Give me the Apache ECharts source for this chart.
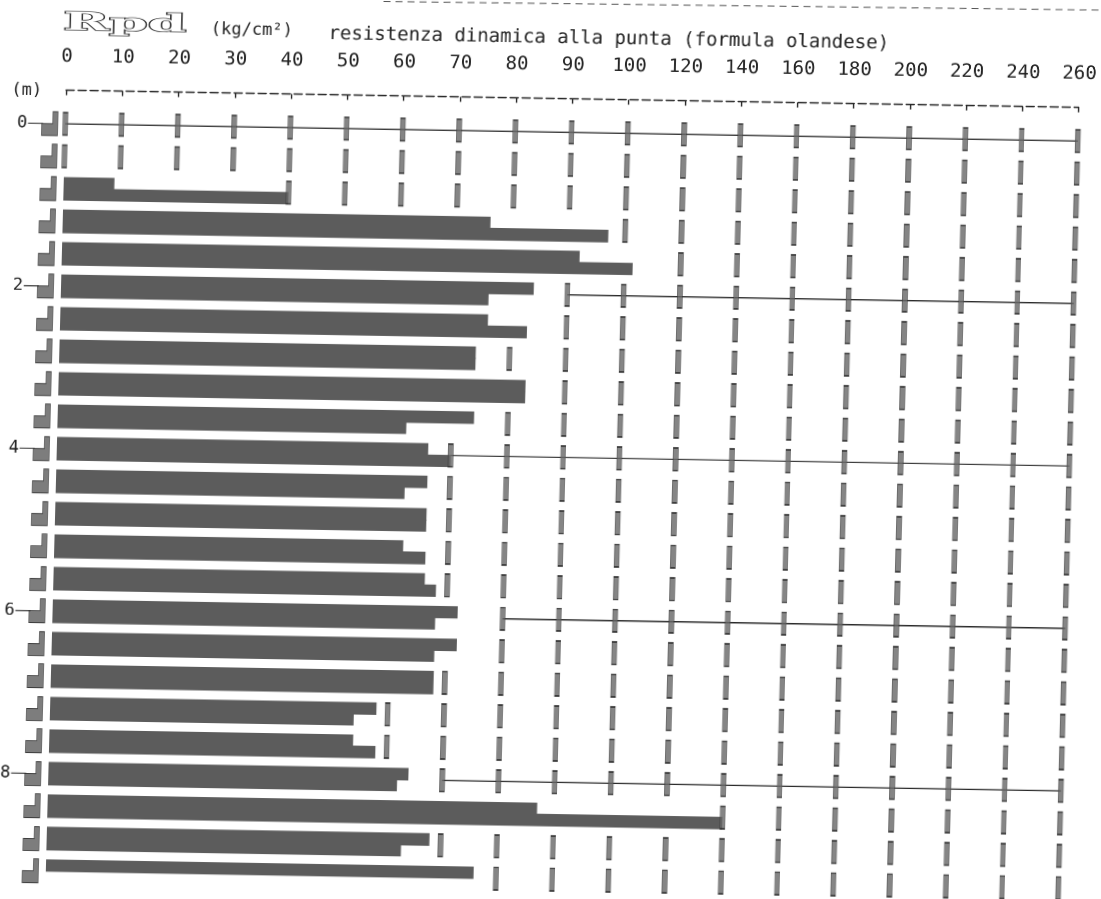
<!DOCTYPE html>
<html>
<head>
<meta charset="utf-8">
<script src="https://cdn.jsdelivr.net/npm/echarts@6/dist/echarts.min.js"></script>
<style>
  html, body { margin: 0; padding: 0; background: #ffffff; overflow: hidden; }
  #chart {
    width: 1101px; height: 899px;
    transform-origin: 550px 450px;
    transform: matrix(1, 0.017, -0.026, 1, 0, 0);
  }
</style>
</head>
<body>
<div id="chart"></div>
<script>
// ---- data (kg/cm², one row every 0.4 m) ----
const ROW_DEPTHS = ['0.0','0.4','0.8','1.2','1.6','2.0','2.4','2.8','3.2','3.6','4.0','4.4',
                    '4.8','5.2','5.6','6.0','6.4','6.8','7.2','7.6','8.0','8.4','8.8','9.2'];
const RPD_UPPER = [null, null, 9, 76, 92, 84, 76, 74, 83, 74, 66, 66, 66, 62, 66, 72, 72, 68, 58, 54, 64, 87, 68, 76];
const RPD_LOWER = [null, null, 40, 97, 103, 76, 83, 74, 83, 62, 70, 62, 66, 66, 68, 68, 68, 68, 54, 58, 62, 140, 63, null];
const TICK_VALUES = [0, 10, 20, 30, 40, 50, 60, 70, 80, 90, 100, 120, 140, 160, 180, 200, 220, 240, 260];
const DEPTH_LABEL_ROWS = [0, 5, 10, 15, 20];
const DEPTH_LABELS = ['0', '2', '4', '6', '8'];

// axis scale: 10 per division up to 100, 20 per division above
function tx(v) { return v <= 100 ? v : 100 + (v - 100) / 2; }
function itx(t) { return t <= 100 ? t : 100 + (t - 100) * 2; }

const chart = echarts.init(document.getElementById('chart'), null, { renderer: 'canvas', devicePixelRatio: 2 });

const BAR = '#5c5c5c';
const INK = '#2a2a2a';
const MONO = '"DejaVu Sans Mono", monospace';

const upperData = RPD_UPPER.map(v => v == null ? '-' : tx(v));
const lowerData = RPD_LOWER.map(v => v == null ? '-' : tx(v));

const tickData = [];
const rowMax = ROW_DEPTHS.map((d, r) => Math.max(RPD_UPPER[r] || 0, RPD_LOWER[r] || 0));
ROW_DEPTHS.forEach((d, r) => {
  TICK_VALUES.forEach(v => { if (v >= rowMax[r]) tickData.push([tx(v), r]); });
});

const lineSeries = DEPTH_LABEL_ROWS.map(r => ({
  type: 'line', silent: true, symbol: 'none', z: 1,
  lineStyle: { color: INK, width: 1.3 },
  data: TICK_VALUES.filter(v => v >= rowMax[r]).map(v => [tx(v), r])
}));

const markerData = ROW_DEPTHS.map((d, r) => [-2.76, r]);
const connectorData = DEPTH_LABEL_ROWS.map(r => [-5.3, r]);

chart.setOption({
  backgroundColor: '#ffffff',
  animation: false,
  grid: { left: 57, right: 31.5, top: 115.95, bottom: 3.3, containLabel: false },
  xAxis: {
    type: 'value', position: 'top', min: 0, max: 180, interval: 10, offset: 17.5,
    axisLine: { show: true, lineStyle: { color: INK, width: 1.4, type: [8, 4] } },
    axisTick: { show: true, inside: true, length: 5, lineStyle: { color: INK, width: 1.4 } },
    splitLine: { show: false },
    axisLabel: {
      margin: 33.5, verticalAlign: 'middle', fontFamily: MONO, fontSize: 19, color: '#222',
      formatter: t => String(itx(t))
    }
  },
  yAxis: {
    type: 'category', data: ROW_DEPTHS, inverse: true,
    axisLine: { show: false }, axisTick: { show: false }, splitLine: { show: false },
    axisLabel: {
      interval: 0, margin: 38, fontFamily: MONO, fontSize: 17, color: '#222',
      formatter: (v, i) => { const k = DEPTH_LABEL_ROWS.indexOf(i); return k >= 0 ? DEPTH_LABELS[k] : ''; }
    }
  },
  series: [
    { type: 'bar', name: 'upper', data: upperData, barWidth: 12.4, barGap: '-10%', z: 2,
      itemStyle: { color: BAR } },
    { type: 'bar', name: 'lower', data: lowerData, barWidth: 12.4, barGap: '-10%', z: 2,
      itemStyle: { color: BAR } },
    ...lineSeries,
    { type: 'scatter', name: 'ticks', data: tickData, symbol: 'rect', symbolSize: [5, 22.5], z: 3,
      silent: true, itemStyle: { color: '#666666', borderColor: INK, borderWidth: 0.8 } },
    { type: 'scatter', name: 'rows', data: markerData, clip: false, silent: true, z: 3,
      symbol: 'path://M11,0 L16,0 L16,24 L0,24 L0,12 L11,12 Z', symbolSize: [16, 24],
      itemStyle: { color: BAR, borderColor: INK, borderWidth: 0.8 } },
    { type: 'scatter', name: 'conn', data: connectorData, clip: false, silent: true, z: 3,
      symbol: 'rect', symbolSize: [15, 1.3], itemStyle: { color: INK } }
  ],
  graphic: [
    { type: 'text', x: 113.9, y: 31.5, scaleX: 2.4, scaleY: 1.05,
      style: { text: 'Rpd', font: 'bold 23px "DejaVu Serif", serif', fill: '#ffffff',
               stroke: '#333', lineWidth: 1.3, align: 'center', verticalAlign: 'middle' } },
    { type: 'text', x: 241, y: 35.5,
      style: { text: '(kg/cm²)', font: '17px ' + MONO, fill: '#222', align: 'center', verticalAlign: 'middle' } },
    { type: 'text', x: 598, y: 38,
      style: { text: 'resistenza dinamica alla punta (formula olandese)', font: '19px ' + MONO,
               fill: '#222', align: 'center', verticalAlign: 'middle' } },
    { type: 'text', x: 17.6, y: 99.5,
      style: { text: '(m)', font: '17px ' + MONO, fill: '#222', align: 'center', verticalAlign: 'middle' } },
    { type: 'line', shape: { x1: 372, y1: 4.5, x2: 1101, y2: 0.8 },
      style: { stroke: '#555', lineWidth: 1, lineDash: [7, 5] } }
  ]
});
</script>
</body>
</html>
